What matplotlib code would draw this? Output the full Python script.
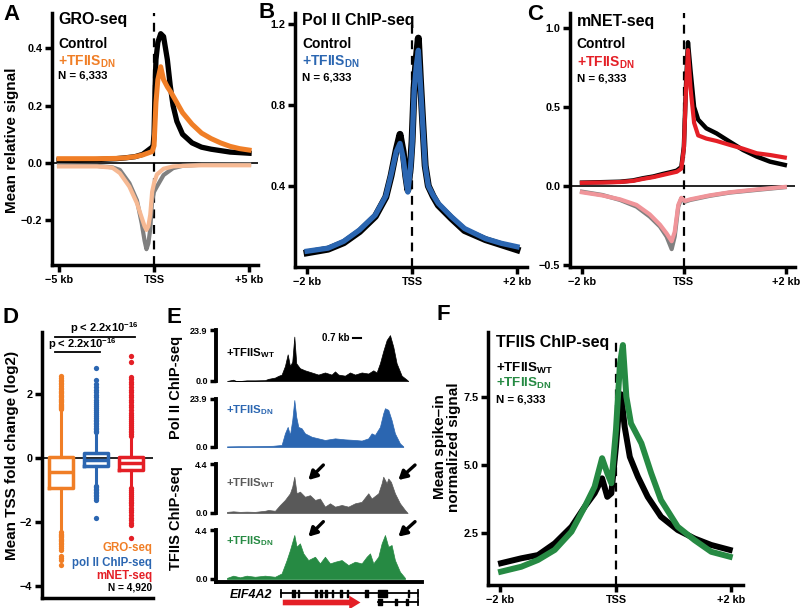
import matplotlib
matplotlib.use('Agg')
import matplotlib.pyplot as plt

plt.rcParams['font.family'] = ['Liberation Sans', 'DejaVu Sans']
plt.rcParams['font.weight'] = 'bold'
plt.rcParams['axes.labelweight'] = 'bold'
plt.rcParams['mathtext.fontset'] = 'custom'
plt.rcParams['mathtext.rm'] = 'Liberation Sans:bold'
plt.rcParams['mathtext.it'] = 'Liberation Sans:bold:italic'
plt.rcParams['mathtext.bf'] = 'Liberation Sans:bold'
plt.rcParams['mathtext.default'] = 'rm'

orange = '#F07E26'
peach = '#F6B993'
grey = '#808080'
blue = '#2B66B1'
red = '#E41F26'
pink = '#F0959A'
green = '#268A43'
trk_grey = '#595959'

# ---- A: GRO-seq (kb from TSS)
A_x_sense = [-5, -4, -3, -2, -1.5, -1, -0.6, -0.3, -0.1, -0.05, 0.0, 0.05, 0.1, 0.2, 0.35, 0.5, 0.7, 0.85, 1.0, 1.2, 1.5, 2.0, 2.5, 3.0, 4.0, 5.0]
A_ctrl_sense = [0.01, 0.01, 0.012, 0.015, 0.018, 0.022, 0.03, 0.045, 0.055, 0.06, 0.1, 0.25, 0.36, 0.42, 0.45, 0.44, 0.36, 0.27, 0.2, 0.145, 0.1, 0.07, 0.055, 0.048, 0.038, 0.034]
A_x_dn = [-5, -4, -3, -2, -1.5, -1, -0.6, -0.3, -0.1, 0.0, 0.1, 0.2, 0.35, 0.5, 0.7, 0.9, 1.2, 1.5, 2.0, 2.5, 3.0, 3.5, 4.0, 4.5, 5.0]
A_dn_sense = [0.015, 0.015, 0.015, 0.016, 0.018, 0.022, 0.028, 0.035, 0.04, 0.06, 0.21, 0.29, 0.335, 0.29, 0.265, 0.245, 0.21, 0.175, 0.135, 0.104, 0.085, 0.07, 0.058, 0.05, 0.045]
A_x_anti = [-5, -3, -2.2, -1.8, -1.3, -0.9, -0.65, -0.5, -0.4, -0.3, -0.2, -0.1, 0.0, 0.15, 0.5, 1.0, 1.5, 2.5, 5.0]
A_ctrl_anti = [-0.008, -0.01, -0.015, -0.024, -0.07, -0.13, -0.21, -0.27, -0.30, -0.28, -0.23, -0.13, -0.1, -0.082, -0.042, -0.018, -0.01, -0.006, -0.005]
A_dn_anti = [-0.012, -0.012, -0.016, -0.035, -0.082, -0.14, -0.19, -0.22, -0.233, -0.22, -0.18, -0.1, -0.07, -0.04, -0.02, -0.012, -0.01, -0.008, -0.008]

# ---- B: Pol II ChIP-seq
B_x = [-2.0, -1.6, -1.3, -1.0, -0.7, -0.5, -0.4, -0.3, -0.23, -0.17, -0.12, -0.08, -0.03, 0.0, 0.04, 0.08, 0.12, 0.16, 0.2, 0.25, 0.31, 0.4, 0.5, 0.75, 1.0, 1.4, 1.7, 2.0]
B_ctrl = [0.07, 0.088, 0.12, 0.175, 0.25, 0.345, 0.45, 0.58, 0.655, 0.57, 0.45, 0.38, 0.5, 0.62, 0.89, 1.03, 1.13, 0.92, 0.73, 0.5, 0.4, 0.35, 0.305, 0.24, 0.18, 0.135, 0.11, 0.085]
B_dn = [0.078, 0.093, 0.127, 0.183, 0.257, 0.35, 0.455, 0.57, 0.61, 0.54, 0.44, 0.37, 0.49, 0.6, 0.87, 0.99, 1.07, 0.9, 0.72, 0.5, 0.4, 0.355, 0.314, 0.248, 0.19, 0.14, 0.117, 0.1]

# ---- C: mNET-seq
C_x_up = [-2.0, -1.6, -1.25, -1.0, -0.8, -0.6, -0.41, -0.25, -0.14, -0.05, 0.0, 0.04, 0.08, 0.13, 0.2, 0.28, 0.44, 0.64, 0.9, 1.16, 1.43, 1.69, 1.98]
C_ctrl_up = [0.021, 0.024, 0.027, 0.035, 0.049, 0.06, 0.076, 0.088, 0.097, 0.12, 0.25, 0.63, 0.91, 0.73, 0.5, 0.42, 0.365, 0.333, 0.28, 0.228, 0.186, 0.154, 0.133]
C_dn_up = [0.02, 0.022, 0.025, 0.032, 0.045, 0.056, 0.07, 0.082, 0.09, 0.11, 0.24, 0.6, 0.86, 0.62, 0.4, 0.32, 0.3, 0.285, 0.26, 0.236, 0.207, 0.196, 0.18]
C_x_lo = [-2.0, -1.6, -1.25, -0.93, -0.67, -0.47, -0.34, -0.24, -0.18, -0.11, -0.05, 0.02, 0.12, 0.5, 0.9, 1.43, 1.98]
C_ctrl_lo = [-0.036, -0.057, -0.089, -0.131, -0.194, -0.257, -0.32, -0.40, -0.32, -0.131, -0.078, -0.1, -0.089, -0.063, -0.042, -0.025, -0.008]
C_dn_lo = [-0.04, -0.06, -0.085, -0.12, -0.18, -0.245, -0.3, -0.35, -0.29, -0.12, -0.075, -0.095, -0.085, -0.06, -0.04, -0.022, -0.006]

# ---- D: TSS fold change boxes
D_labels = ['GRO-seq', 'pol II ChIP-seq', 'mNET-seq']
D_q1 = [-0.94, -0.25, -0.375]
D_med = [-0.44, -0.07, -0.17]
D_q3 = [0.02, 0.15, 0.04]
D_whislo = [-2.3, -0.85, -0.92]
D_whishi = [1.5, 0.78, 0.67]
D_out_gro = [1.52, 1.56, 1.6, 1.63, 1.67, 1.7, 1.74, 1.78, 1.81, 1.85, 1.9, 1.94, 1.98, 2.02, 2.07, 2.11, 2.16, 2.2, 2.25, 2.3, 2.35, 2.4, 2.44, 2.49, 2.55,
             -2.32, -2.36, -2.4, -2.44, -2.48, -2.52, -2.56, -2.6, -2.65, -2.7, -2.75, -2.8, -2.86, -3.05, -3.12, -3.2, -3.35]
D_out_pol = [0.8, 0.85, 0.9, 0.95, 1.0, 1.05, 1.1, 1.15, 1.2, 1.26, 1.32, 1.38, 1.44, 1.5, 1.56, 1.62, 1.68, 1.75, 1.82, 1.9, 1.98, 2.06, 2.14, 2.22, 2.3, 2.45, 2.8,
             -0.88, -0.92, -0.96, -1.0, -1.05, -1.1, -1.15, -1.2, -1.25, -1.3, -1.88]
D_out_net = [0.7, 0.75, 0.8, 0.86, 0.92, 0.98, 1.04, 1.1, 1.16, 1.22, 1.28, 1.35, 1.42, 1.5, 1.58, 1.66, 1.74, 1.82, 1.9, 1.98, 2.06, 2.14, 2.22, 2.3, 2.38, 2.46, 2.54, 3.0, 3.2,
             -0.95, -1.0, -1.06, -1.12, -1.18, -1.24, -1.3, -1.36, -1.42, -1.48, -1.55, -1.62, -1.7, -1.78, -1.86, -1.94, -2.02, -2.1, -2.5]

# ---- E: EIF4A2 browser tracks (kb)
E_pos1 = [0.0, 0.55, 0.8, 1.14, 1.72, 2.45, 3.32, 3.62, 4.2, 4.49, 4.78, 5.07, 5.31, 5.51, 5.71, 5.89, 6.06, 6.38, 6.82, 7.41, 7.99, 8.57, 9.15, 9.45, 9.74, 10.32, 10.76, 11.2, 11.78, 12.36, 12.8, 13.09, 13.38, 13.67, 13.97, 14.26, 14.55, 14.84, 15.28, 15.71, 15.86]
E_pol_wt = [0.0, 0.6, 0.0, 0.0, 0.3, 0.3, 0.4, 1.0, 1.6, 2.4, 3.0, 7.0, 12.5, 7.0, 9.0, 20.8, 8.3, 6.0, 5.0, 4.0, 3.0, 4.0, 3.0, 4.5, 3.0, 2.5, 4.0, 3.0, 4.0, 3.5, 5.0, 4.0, 8.3, 14.0, 19.2, 21.5, 16.0, 8.3, 2.5, 0.7, 0.0]
E_pos2 = [0.0, 1.0, 2.0, 3.0, 4.0, 4.78, 5.07, 5.31, 5.51, 5.71, 5.89, 6.06, 6.24, 6.53, 6.82, 7.41, 7.99, 8.57, 9.45, 10.32, 11.2, 11.78, 12.36, 12.65, 12.94, 13.38, 13.67, 13.82, 14.11, 14.4, 14.69, 15.13, 15.42]
E_pol_dn = [0.3, 0.4, 0.4, 0.5, 0.6, 1.0, 6.8, 10.0, 6.0, 13.4, 23.4, 15.0, 10.0, 9.3, 6.8, 5.1, 4.3, 3.5, 4.3, 3.8, 3.5, 3.2, 4.3, 6.8, 6.0, 10.0, 16.8, 19.3, 18.5, 13.4, 6.8, 1.8, 0.3]
E_pos3 = [0.0, 0.55, 1.14, 1.72, 2.45, 3.32, 3.62, 4.2, 4.64, 5.07, 5.51, 5.71, 5.89, 6.09, 6.38, 6.82, 7.26, 7.70, 8.13, 8.57, 9.01, 9.45, 10.03, 10.61, 11.2, 11.78, 12.36, 12.65, 13.24, 13.53, 13.67, 13.97, 14.11, 14.34, 14.69, 15.13, 15.57, 15.8]
E_tfiis_wt = [0.1, 0.15, 0.1, 0.12, 0.1, 0.2, 0.27, 0.2, 0.72, 1.17, 1.77, 2.36, 3.26, 1.77, 1.92, 1.46, 1.6, 1.17, 1.3, 0.57, 0.87, 0.57, 0.72, 0.57, 0.87, 1.0, 1.77, 1.3, 1.77, 2.67, 3.26, 2.67, 3.1, 2.8, 1.77, 0.87, 0.27, 0.0]
E_pos4 = [0.0, 0.55, 1.14, 1.72, 2.45, 3.32, 4.2, 4.78, 5.22, 5.51, 5.89, 6.09, 6.38, 6.68, 7.11, 7.70, 8.13, 8.57, 9.01, 9.45, 10.03, 10.61, 11.2, 11.78, 12.22, 12.51, 12.8, 13.24, 13.53, 13.82, 14.11, 14.4, 14.69, 15.13, 15.57]
E_tfiis_dn = [0.1, 0.3, 0.15, 0.3, 0.2, 0.3, 0.2, 0.5, 1.7, 2.6, 3.95, 2.9, 3.2, 2.3, 1.7, 2.0, 1.4, 2.0, 1.4, 1.55, 1.7, 1.25, 1.55, 1.4, 2.0, 2.3, 1.4, 2.0, 3.2, 3.95, 2.9, 3.05, 1.7, 0.65, 0.1]
E_ymax = [23.9, 23.9, 4.4, 4.4]
E_tx1 = [4.69, 16.68]
E_tx1_exons = [(5.66, 0.29), (6.18, 0.15), (7.70, 0.2), (8.13, 0.15), (8.57, 0.15), (9.15, 0.15), (9.88, 0.15), (10.47, 0.14), (12.07, 0.29), (13.24, 0.73), (15.86, 0.09)]
E_tx2 = [13.24, 16.68]
E_tx2_exons = [(13.24, 0.35), (14.69, 0.15), (15.63, 0.17)]
E_arrow = [4.64, 11.92]

# ---- F: TFIIS ChIP-seq
F_x = [-1.99, -1.64, -1.35, -1.06, -0.77, -0.54, -0.37, -0.24, -0.15, -0.08, 0.0, 0.05, 0.09, 0.15, 0.24, 0.38, 0.55, 0.78, 1.07, 1.36, 1.65, 1.97]
F_wt = [1.39, 1.57, 1.69, 2.12, 2.73, 3.47, 3.96, 4.51, 3.83, 3.96, 5.67, 7.0, 7.6, 6.41, 5.3, 4.57, 3.83, 3.1, 2.61, 2.3, 2.06, 1.88]
F_x_dn = [-1.99, -1.64, -1.35, -1.06, -0.77, -0.54, -0.37, -0.24, -0.15, -0.08, 0.0, 0.07, 0.12, 0.18, 0.26, 0.44, 0.61, 0.78, 1.07, 1.36, 1.65, 1.97]
F_dn = [1.08, 1.26, 1.51, 1.88, 2.55, 3.47, 4.2, 5.25, 4.7, 4.33, 6.29, 8.74, 9.41, 7.51, 6.53, 5.8, 4.7, 3.71, 2.73, 2.24, 1.81, 1.63]

W, H = 800, 608
fig = plt.figure(figsize=(8, 6.08), dpi=100)


def box(l, t, r, b):
    return [l / W, 1 - b / H, (r - l) / W, (b - t) / H]


def style(ax, lw=2.5):
    for s in ['top', 'right']:
        ax.spines[s].set_visible(False)
    ax.spines['left'].set_linewidth(lw)
    ax.spines['bottom'].set_linewidth(lw)
    ax.tick_params(length=5, width=2.5, labelsize=7.8, pad=2)


def legend(ax, title, ys, c2, lab1='Control', lab2='+TFIIS$_{DN}$', fs=10):
    ax.text(0.03, ys[0], title, transform=ax.transAxes, fontsize=11.5, va='center', ha='left')
    ax.text(0.03, ys[1], lab1, transform=ax.transAxes, fontsize=fs, va='center', ha='left')
    ax.text(0.03, ys[2], lab2, transform=ax.transAxes, fontsize=fs, va='center', ha='left', color=c2)
    ax.text(0.03, ys[3], 'N = 6,333', transform=ax.transAxes, fontsize=8.2, va='center', ha='left')


# A
ax = fig.add_axes(box(52, 13, 258, 265))
style(ax)
ax.axhline(0, color='black', lw=1.2)
ax.axvline(0, color='black', lw=1.6, ls=(0, (4, 3)))
ax.plot(A_x_anti, A_ctrl_anti, color=grey, lw=3)
ax.plot(A_x_anti, A_dn_anti, color=peach, lw=3)
ax.plot(A_x_sense, A_ctrl_sense, color='black', lw=3.8)
ax.plot(A_x_dn, A_dn_sense, color=orange, lw=3.6)
ax.set_xlim(-5.37, 5.47)
ax.set_ylim(-0.355, 0.522)
ax.set_xticks([-5, 0, 5])
ax.set_xticklabels(['\u22125 kb', 'TSS', '+5 kb'])
ax.set_yticks([-0.2, 0.0, 0.2, 0.4])
ax.set_yticklabels(['\u22120.2', '0.0', '0.2', '0.4'])
legend(ax, 'GRO-seq', [0.976, 0.878, 0.806, 0.75], orange)

# B
ax = fig.add_axes(box(295, 13, 527, 267))
style(ax)
ax.axvline(0, ymax=0.97, color='black', lw=1.6, ls=(0, (4, 3)))
ax.plot(B_x, B_ctrl, color='black', lw=5)
ax.plot(B_x, B_dn, color=blue, lw=3.8)
ax.set_xlim(-2.23, 2.19)
ax.set_ylim(0, 1.254)
ax.set_xticks([-2, 0, 2])
ax.set_xticklabels(['\u22122 kb', 'TSS', '+2 kb'])
ax.set_yticks([0.4, 0.8, 1.2])
ax.set_yticklabels(['0.4', '0.8', '1.2'])
legend(ax, 'Pol II ChIP-seq', [0.972, 0.878, 0.806, 0.745], blue)

# C
ax = fig.add_axes(box(570, 13, 795, 267))
style(ax)
ax.axhline(0, color='black', lw=1.2)
ax.axvline(0, color='black', lw=1.6, ls=(0, (4, 3)))
ax.plot(C_x_lo, C_ctrl_lo, color=grey, lw=3)
ax.plot(C_x_lo, C_dn_lo, color=pink, lw=3)
ax.plot(C_x_up, C_ctrl_up, color='black', lw=3.2)
ax.plot(C_x_up, C_dn_up, color=red, lw=3)
ax.set_xlim(-2.235, 2.18)
ax.set_ylim(-0.513, 1.095)
ax.set_xticks([-2, 0, 2])
ax.set_xticklabels(['\u22122 kb', 'TSS', '+2 kb'])
ax.set_yticks([-0.5, 0.0, 0.5, 1.0])
ax.set_yticklabels(['\u22120.5', '0.0', '0.5', '1.0'])
legend(ax, 'mNET-seq', [0.966, 0.878, 0.803, 0.742], red)

# D
ax = fig.add_axes(box(42, 332, 153, 598))
style(ax)
ax.axhline(0, color='black', lw=1.2, zorder=1)
cols = [orange, blue, red]
outs = [D_out_gro, D_out_pol, D_out_net]
for i in range(3):
    st = [dict(med=D_med[i], q1=D_q1[i], q3=D_q3[i], whislo=D_whislo[i], whishi=D_whishi[i], fliers=outs[i])]
    ax.bxp(st, positions=[i + 1], widths=0.66, manage_ticks=False,
           boxprops=dict(color=cols[i], lw=2.5), medianprops=dict(color=cols[i], lw=2.5),
           whiskerprops=dict(color=cols[i], lw=2.2), capprops=dict(lw=0),
           flierprops=dict(marker='o', markersize=3.8, markerfacecolor=cols[i], markeredgecolor='none'))
ax.set_xlim(0.457, 3.63)
ax.set_ylim(-4.375, 3.94)
ax.set_xticks([])
ax.set_yticks([-4, -2, 0, 2])
ax.set_yticklabels(['\u22124', '\u22122', '0', '2'])
ax.plot([0.83, 3.11], [3.78, 3.78], color='black', lw=1.3, clip_on=False)
ax.plot([0.83, 2.11], [3.31, 3.31], color='black', lw=1.3, clip_on=False)
ax.text(2.24, 4.05, 'p < 2.2x10$^{-16}$', ha='center', va='center', fontsize=8, clip_on=False)
ax.text(1.62, 3.55, 'p < 2.2x10$^{-16}$', ha='center', va='center', fontsize=8)
for lab, c, y in zip(D_labels, cols, [0.188, 0.132, 0.083]):
    ax.text(0.99, y, lab, transform=ax.transAxes, ha='right', va='center', fontsize=8.3, color=c)
ax.text(0.99, 0.038, 'N = 4,920', transform=ax.transAxes, ha='right', va='center', fontsize=7.3)

# E
trk_box = [(330, 381), (399, 447), (464, 513), (530, 582)]
trk_pos = [E_pos1, E_pos2, E_pos3, E_pos4]
trk_val = [E_pol_wt, E_pol_dn, E_tfiis_wt, E_tfiis_dn]
trk_col = ['black', blue, trk_grey, green]
trk_lab = ['+TFIIS$_{WT}$', '+TFIIS$_{DN}$', '+TFIIS$_{WT}$', '+TFIIS$_{DN}$']
trk_laby = [0.55, 0.77, 0.61, 0.78]
for i in range(4):
    ax = fig.add_axes(box(216, trk_box[i][0], 422, trk_box[i][1]))
    for s in ['top', 'right']:
        ax.spines[s].set_visible(False)
    ax.spines['left'].set_linewidth(2.8)
    ax.fill_between(trk_pos[i], 0, trk_val[i], color=trk_col[i], lw=0.5, edgecolor=trk_col[i])
    ax.set_xlim(-0.96, 17.06)
    if i == 3:
        ax.set_ylim(-0.27, E_ymax[i])
        ax.spines['bottom'].set_linewidth(2.8)
    else:
        ax.set_ylim(0, E_ymax[i])
        ax.spines['bottom'].set_visible(False)
    ax.set_xticks([])
    ax.set_yticks([0, E_ymax[i]])
    ax.set_yticklabels(['0.0', '%.1f' % E_ymax[i]])
    ax.tick_params(axis='y', length=4, width=2.5, labelsize=6.5, pad=2)
    ax.text(0.05, trk_laby[i], trk_lab[i], transform=ax.transAxes, fontsize=8.2,
            color=trk_col[i], va='center', ha='left')
    if i == 0:
        ax.plot([11.05, 11.75], [0.84 * E_ymax[i]] * 2, color='black', lw=1.5)
        ax.text(10.7, 0.84 * E_ymax[i], '0.7 kb', ha='right', va='center', fontsize=7)
    if i >= 2:
        ty = 4.31 if i == 2 else 5.15
        hy = 2.96 if i == 2 else 3.8
        for tx, hx in [(8.43, 7.12), (16.45, 14.99)]:
            ax.annotate('', xy=(hx, hy), xytext=(tx, ty), annotation_clip=False,
                        arrowprops=dict(arrowstyle='-|>,head_width=0.28,head_length=0.5', lw=2.4,
                                        color='black', shrinkA=0, shrinkB=0))

gx = fig.add_axes(box(216, 586, 422, 608))
gx.axis('off')
gx.set_xlim(-0.96, 17.06)
gx.set_ylim(0, 1)
gx.plot(E_tx1, [0.66, 0.66], color='black', lw=1.3)
gx.broken_barh(E_tx1_exons, (0.52, 0.28), color='black')
gx.plot([E_tx1[0]] * 2, [0.52, 0.8], color='black', lw=1.3)
gx.plot([E_tx1[1]] * 2, [0.52, 0.8], color='black', lw=1.3)
gx.plot(E_tx2, [0.27, 0.27], color='black', lw=1.3)
gx.broken_barh(E_tx2_exons, (0.13, 0.28), color='black')
gx.plot([E_tx2[1]] * 2, [0.13, 0.41], color='black', lw=1.3)
gx.annotate('', xy=(E_arrow[1], 0.25), xytext=(E_arrow[0], 0.25),
            arrowprops=dict(arrowstyle='simple,head_width=1.1,head_length=0.9,tail_width=0.45',
                            mutation_scale=9, color=red, lw=0))
gx.text(3.94, 0.6, 'EIF4A2', style='italic', ha='right', va='center', fontsize=9)

fig.text(176 / W, 1 - 387 / H, 'Pol II ChIP-seq', rotation=90, ha='center', va='center', fontsize=10.5)
fig.text(176 / W, 1 - 518 / H, 'TFIIS ChIP-seq', rotation=90, ha='center', va='center', fontsize=10.5)

# F
ax = fig.add_axes(box(488, 332, 743, 585))
style(ax)
ax.axvline(0, ymax=0.976, color='black', lw=1.6, ls=(0, (4, 3)))
ax.plot(F_x, F_wt, color='black', lw=4.3)
ax.plot(F_x_dn, F_dn, color=green, lw=4.3)
ax.set_xlim(-2.216, 2.2)
ax.set_ylim(0.589, 9.89)
ax.set_xticks([-2, 0, 2])
ax.set_xticklabels(['\u22122 kb', 'TSS', '+2 kb'])
ax.set_yticks([2.5, 5.0, 7.5])
ax.set_yticklabels(['2.5', '5.0', '7.5'])
legend(ax, 'TFIIS ChIP-seq', [0.96, 0.857, 0.797, 0.735], green, lab1='+TFIIS$_{WT}$', fs=9.6)

fig.text(12 / W, 1 - 140 / H, 'Mean relative signal', rotation=90, ha='center', va='center', fontsize=11)
fig.text(12 / W, 1 - 455 / H, 'Mean TSS fold change (log2)', rotation=90, ha='center', va='center', fontsize=11)
fig.text(447 / W, 1 - 447 / H, 'Mean spike\u2013in\nnormalized signal', rotation=90, ha='center', va='center',
         fontsize=11, linespacing=1.0)

for lab, x, y in [('A', 3, 14), ('B', 259, 12), ('C', 527, 14), ('D', 3, 317), ('E', 167, 317), ('F', 437, 315)]:
    fig.text(x / W, 1 - y / H, lab, fontsize=16, ha='left', va='center')

fig.savefig('out.png', dpi=100)
